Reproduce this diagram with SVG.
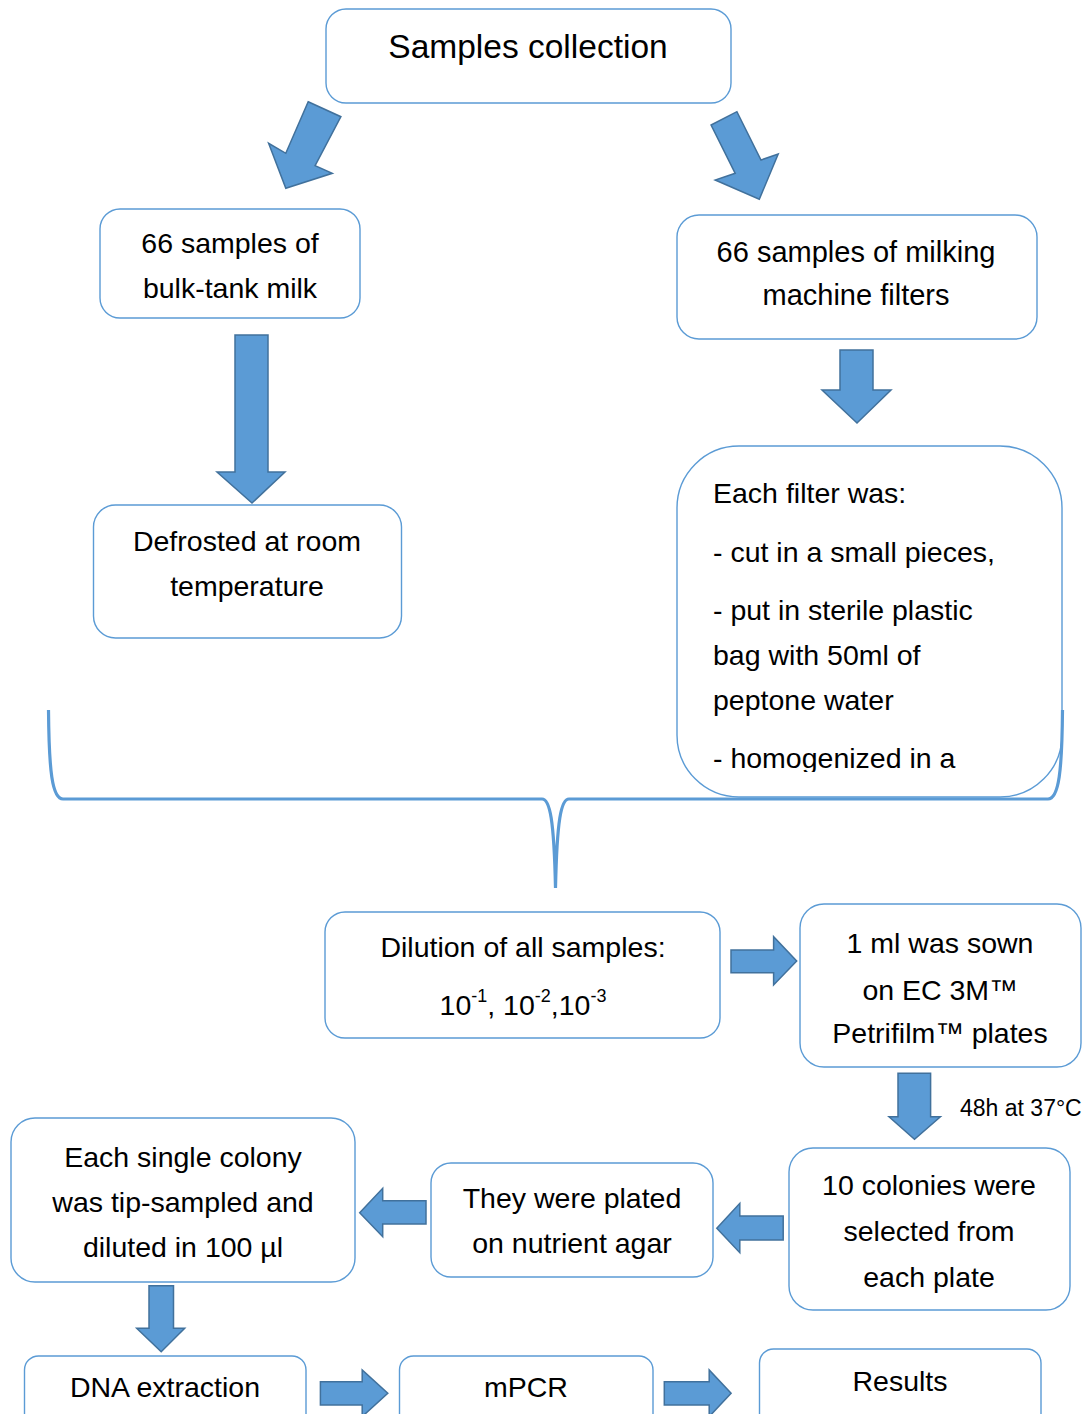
<svg xmlns="http://www.w3.org/2000/svg" width="1089" height="1414" viewBox="0 0 1089 1414">
<style>
.box{fill:#fff;stroke:#5B9BD5;stroke-width:1.4}
.t{font-family:"Liberation Sans",Arial,sans-serif;font-size:28.5px;fill:#000;text-anchor:middle}
.tl{font-family:"Liberation Sans",Arial,sans-serif;font-size:28.5px;fill:#000}
.arr{fill:#5B9BD5;stroke:#41719C;stroke-width:1.5;stroke-linejoin:miter}
.brace{fill:none;stroke:#5B9BD5;stroke-width:3.2}
</style>
<defs>
<clipPath id="filterClip"><rect x="677" y="446" width="386" height="326"/></clipPath>
</defs>
<rect width="1089" height="1414" fill="#fff"/>

<g id="n-samples-collection">
<rect class="box" x="326" y="9" width="405" height="94" rx="20"/>
<text class="t" x="528" y="58" style="font-size:33.5px">Samples collection</text>
</g>

<g id="n-bulk-tank">
<rect class="box" x="100" y="209" width="260" height="109" rx="20"/>
<text class="t" x="230" y="253">66 samples of</text>
<text class="t" x="230" y="298">bulk-tank milk</text>
</g>

<g id="n-defrosted">
<rect class="box" x="93.5" y="505" width="308" height="133" rx="22"/>
<text class="t" x="247" y="551">Defrosted at room</text>
<text class="t" x="247" y="596">temperature</text>
</g>

<g id="n-filters">
<rect class="box" x="677" y="215" width="360" height="124" rx="22"/>
<text class="t" x="856" y="262" style="font-size:29px">66 samples of milking</text>
<text class="t" x="856" y="305" style="font-size:29px">machine filters</text>
</g>

<g id="n-each-filter">
<rect class="box" x="677" y="446" width="385" height="351" rx="62"/>
<g clip-path="url(#filterClip)">
<text class="tl" x="713" y="503">Each filter was:</text>
<text class="tl" x="713" y="562">- cut in a small pieces,</text>
<text class="tl" x="713" y="620">- put in sterile plastic</text>
<text class="tl" x="713" y="665">bag with 50ml of</text>
<text class="tl" x="713" y="710">peptone water</text>
<text class="tl" x="713" y="768">- homogenized in a</text>
</g>
</g>

<g id="n-dilution">
<rect class="box" x="325" y="912" width="395" height="126" rx="20"/>
<text class="t" x="523" y="957">Dilution of all samples:</text>
<text class="t" x="523" y="1015">10<tspan dy="-13" font-size="18">-1</tspan><tspan dy="13">, 10</tspan><tspan dy="-13" font-size="18">-2</tspan><tspan dy="13">,10</tspan><tspan dy="-13" font-size="18">-3</tspan></text>
</g>

<g id="n-sown">
<rect class="box" x="800" y="904" width="281" height="163" rx="24"/>
<text class="t" x="940" y="953">1 ml was sown</text>
<text class="t" x="940" y="1000">on EC 3M™</text>
<text class="t" x="940" y="1043">Petrifilm™ plates</text>
</g>

<g id="n-colonies">
<rect class="box" x="789" y="1148" width="281" height="162" rx="24"/>
<text class="t" x="929" y="1195">10 colonies were</text>
<text class="t" x="929" y="1241">selected from</text>
<text class="t" x="929" y="1287">each plate</text>
</g>

<g id="n-plated">
<rect class="box" x="431" y="1163" width="282" height="114" rx="20"/>
<text class="t" x="572" y="1208">They were plated</text>
<text class="t" x="572" y="1253">on nutrient agar</text>
</g>

<g id="n-single-colony">
<rect class="box" x="11" y="1118" width="344" height="164" rx="24"/>
<text class="t" x="183" y="1167">Each single colony</text>
<text class="t" x="183" y="1212">was tip-sampled and</text>
<text class="t" x="183" y="1257">diluted in 100 µl</text>
</g>

<g id="n-dna">
<rect class="box" x="24.5" y="1356" width="281.5" height="80" rx="14"/>
<text class="t" x="165" y="1397">DNA extraction</text>
</g>

<g id="n-mpcr">
<rect class="box" x="399.5" y="1356" width="253.5" height="80" rx="14"/>
<text class="t" x="526" y="1397">mPCR</text>
</g>

<g id="n-results">
<rect class="box" x="759.5" y="1349" width="281.5" height="90" rx="14"/>
<text class="t" x="900" y="1391">Results</text>
</g>

<g id="n-incubation-label">
<text class="tl" x="960" y="1116" style="font-size:23px">48h at 37°C</text>
</g>

<g id="connectors">
<polygon class="arr" points="308.2,101.7 340.9,116.7 315.1,165.7 332.3,173.3 285.8,188.3 268.6,143.3 285.8,153.3"/>
<polygon class="arr" points="711.1,125 736.9,111.7 761,160 778.2,154 759.3,199.3 715.2,180 735.2,173.3"/>
<polygon class="arr" points="235,335 268,335 268,472 285,472 252,503 217,472 235,472"/>
<polygon class="arr" points="840,350 873,350 873,390 891,390 857,423 822,390 840,390"/>
<polygon class="arr" points="731,950 773.6,950 773.6,936.7 796.7,961 773.6,985 773.6,972.7 731,972.7"/>
<polygon class="arr" points="898,1073.3 930.6,1073.3 930.6,1116.7 940.4,1116.7 914.5,1139.3 889,1116.7 898,1116.7"/>
<polygon class="arr" points="783.2,1216 739.8,1216 739.8,1203.3 716.8,1228.3 739.8,1252.7 739.8,1240 783.2,1240"/>
<polygon class="arr" points="426,1200.7 382.7,1200.7 382.7,1188.3 359.7,1212.7 382.7,1236.7 382.7,1224 426,1224"/>
<polygon class="arr" points="149,1285.7 173.5,1285.7 173.5,1328.3 184.7,1328.3 161.2,1351.7 136.7,1328.3 149,1328.3"/>
<polygon class="arr" points="320.4,1381.7 362.2,1381.7 362.2,1370 387.8,1393.3 362.2,1416.6 362.2,1405 320.4,1405"/>
<polygon class="arr" points="664.3,1381.7 709.2,1381.7 709.2,1370 731.1,1393.3 709.2,1416.6 709.2,1405 664.3,1405"/>
<path class="brace" d="M48.5,710 C49,770 52,799 63,799 L542,799 C550,799 554,820 555.5,888 C557,820 561,799 569,799 L1048,799 C1059,799 1062,770 1062.5,710"/>
</g>
</svg>
